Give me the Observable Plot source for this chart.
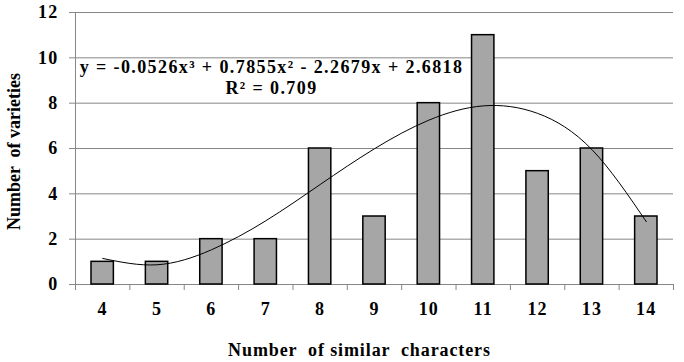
<!DOCTYPE html>
<html><head><meta charset="utf-8">
<script src="https://cdn.jsdelivr.net/npm/d3@7"></script>
<script src="https://cdn.jsdelivr.net/npm/@observablehq/plot@0.6"></script>
<style>
body{margin:0;background:#fff;}
#chart svg{display:block;}
#chart svg, #chart svg text{font-family:"Liberation Serif","Times New Roman",serif;font-weight:bold;}
</style>
</head><body><div id="chart"></div>
<script>
const categories = [4, 5, 6, 7, 8, 9, 10, 11, 12, 13, 14];
const varieties = [1, 1, 2, 2, 6, 3, 8, 11, 5, 6, 3];
const trendValues = [1.15, 0.87, 1.53, 2.81, 4.41, 5.99, 7.25, 7.88, 7.55, 5.95, 2.77];
const yTicks = [0, 2, 4, 6, 8, 10, 12];
const equationLines = ["y = -0.0526x³ + 0.7855x² - 2.2679x + 2.6818", "R² = 0.709"];
const xTitle = "Number  of similar  characters";
const yTitle = "Number  of varieties";

const bars = categories.map((c, i) => ({c, v: varieties[i]}));
const trend = categories.map((c, i) => ({c, v: trendValues[i]}));
const boundaries = categories.map(c => c - 0.5).concat([categories[categories.length - 1] + 0.5]);
const xMin = boundaries[0], xMax = boundaries[boundaries.length - 1];

const font = "Liberation Serif";
const gridColor = "#868686";
const chart = Plot.plot({
  width: 684,
  height: 362,
  marginLeft: 75,
  marginRight: 11,
  marginTop: 12,
  marginBottom: 78,
  style: {fontFamily: font, fontSize: "18px", fontWeight: "bold", color: "black", background: "white"},
  x: {type: "linear", domain: [xMin, xMax]},
  y: {domain: [0, 12]},
  marks: [
    Plot.gridY(yTicks, {stroke: gridColor, strokeOpacity: 1}),
    Plot.axisY(yTicks, {tickSize: 6, tickPadding: 11, stroke: gridColor, label: null, fontSize: 18, fontFamily: font, fontWeight: "bold"}),
    Plot.axisX(boundaries, {tickSize: 6, stroke: gridColor, tickFormat: () => "", label: null}),
    Plot.axisX(categories, {tickSize: 0, tickPadding: 18, label: null, fontSize: 18, fontFamily: font, fontWeight: "bold"}),
    Plot.ruleX([xMin], {stroke: gridColor}),
    Plot.ruleY([0], {stroke: gridColor}),
    Plot.rectY(bars, {x1: d => d.c - 0.5, x2: d => d.c + 0.5, y: "v", insetLeft: 16, insetRight: 16, fill: "#a6a6a6", stroke: "black", strokeWidth: 1.5}),
    Plot.line(trend, {x: "c", y: "v", curve: "natural", stroke: "black", strokeWidth: 1}),
    Plot.text([equationLines.join("\n")], {frameAnchor: "top-left", dx: 196, dy: 45, textAnchor: "middle", lineAnchor: "top", lineHeight: 1.2, fontSize: 18, fontFamily: font, fontWeight: "bold", fill: "black"}),
    Plot.text([xTitle], {frameAnchor: "bottom", dx: -15, dy: 66, lineAnchor: "middle", fontSize: 18, fontFamily: font, fontWeight: "bold", fill: "black"}),
    Plot.text([yTitle], {frameAnchor: "left", dx: -61, dy: 3, rotate: -90, textAnchor: "middle", lineAnchor: "middle", fontSize: 18, fontFamily: font, fontWeight: "bold", fill: "black"})
  ]
});
document.getElementById("chart").appendChild(chart);
// widen letter spacing to mimic the reference's text rendering
d3.select(chart).selectAll("text").each(function() {
  const t = this.textContent;
  let ls = 1.2;
  if (t.startsWith(equationLines[0])) ls = 1.4;
  else if (t === xTitle) ls = 0.9;
  else if (t === yTitle) ls = 0;
  this.setAttribute("letter-spacing", ls);
});
</script>
</body></html>
